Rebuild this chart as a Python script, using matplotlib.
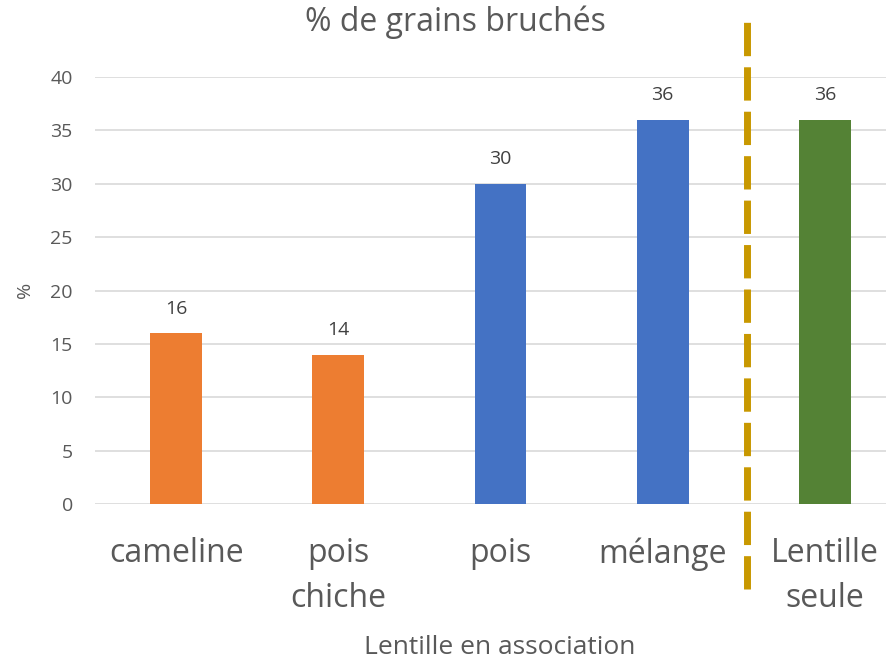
import matplotlib.pyplot as plt

categories = ["cameline", "pois\nchiche", "pois", "mélange", "Lentille\nseule"]
values = [16, 14, 30, 36, 36]
colors = ["#ED7D31", "#ED7D31", "#4472C4", "#4472C4", "#548235"]
yticks = [0, 5, 10, 15, 20, 25, 30, 35, 40]

plt.rcParams["font.family"] = ["Open Sans", "DejaVu Sans"]
grey = "#595959"

fig = plt.figure(figsize=(8.87, 6.62), dpi=100)
W, H = 887, 662
# axes: x from 95 to 906 px, y from 504 (0) to 77 (40)
ax = fig.add_axes([95 / W, (H - 504) / H, 811 / W, 427 / H])

x = list(range(len(categories)))
bars = ax.bar(x, values, width=0.32, color=colors, zorder=3)
for xi, v in zip(x, values):
    ax.annotate(str(v), (xi, v), xytext=(0, 11), textcoords="offset points",
                ha="center", va="bottom", fontsize=14, color="#404040")

ax.set_xlim(-0.5, 4.5)
ax.set_ylim(0, 40)
ax.set_yticks(yticks)
ax.yaxis.grid(True, color="#D9D9D9", linewidth=1.2, zorder=0)
ax.tick_params(axis="y", length=0, pad=16, labelsize=14, labelcolor=grey)
ax.tick_params(axis="x", length=0, pad=24, labelsize=23, labelcolor=grey)
ax.set_xticks(x)
ax.set_xticklabels(categories, linespacing=1.45, va="top")
for s in ax.spines.values():
    s.set_visible(False)

ax.axvline(3.52, ymin=-0.199, ymax=1.131, color="#C89800", linewidth=5,
           linestyle=(0, (4.8, 1.6)), clip_on=False, zorder=4)

fig.text(455 / W, 1 - 22 / H, "% de grains bruchés", ha="center", va="center",
         fontsize=23, color=grey)
fig.text(500 / W, 1 - 647 / H, "Lentille en association", ha="center", va="center",
         fontsize=19, color=grey)
fig.text(25 / W, 1 - 290 / H, "%", ha="center", va="center", rotation=90,
         fontsize=14, color=grey)

fig.savefig("out.png", dpi=100)
